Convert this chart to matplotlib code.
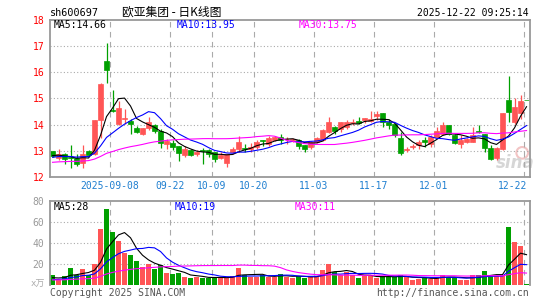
import numpy as np
import pandas as pd
import matplotlib.pyplot as plt
from matplotlib.transforms import blended_transform_factory

plt.rcParams['font.family'] = ['DejaVu Sans Mono', 'Noto Sans CJK SC']

# daily K-line of sh600697, first bar = 2025-08-25, last bar = 2025-12-22
opens = [12.99, 12.75, 12.90, 12.76, 12.75, 12.53, 12.99, 12.90, 14.16, 16.42,
         14.56, 14.03, 14.23, 14.13, 13.88, 13.66, 13.88, 14.00, 13.76, 13.27,
         13.30, 13.18, 12.84, 13.03, 12.87, 13.05, 13.02, 12.96, 12.72, 12.54,
         12.96, 13.08, 13.10, 13.06, 13.14, 13.42, 13.27, 13.42, 13.55, 13.45,
         13.40, 13.42, 13.21, 13.14, 13.33, 13.40, 13.71, 13.90, 13.84, 13.90,
         14.08, 14.15, 14.19, 14.15, 14.34, 14.43, 14.12, 14.03, 13.50, 13.03,
         13.15, 13.21, 13.40, 13.27, 13.55, 13.65, 13.97, 13.59, 13.27, 13.34,
         13.36, 13.76, 13.63, 13.12, 12.73, 13.08, 14.95, 14.09, 14.43, 14.94]
highs = [13.01, 13.08, 12.92, 13.22, 12.90, 13.22, 13.02, 14.18, 15.57, 17.10,
         15.33, 14.92, 14.60, 14.20, 13.95, 13.88, 14.28, 14.03, 13.84, 13.45,
         13.43, 13.20, 13.18, 13.08, 13.05, 13.10, 13.08, 12.98, 12.96, 12.90,
         13.14, 13.58, 13.26, 13.30, 13.40, 13.42, 13.58, 13.58, 13.65, 13.55,
         13.48, 13.46, 13.23, 13.39, 13.52, 13.84, 14.30, 13.96, 14.09, 14.19,
         14.22, 14.30, 14.25, 14.52, 14.53, 14.45, 14.22, 14.05, 13.71, 13.15,
         13.27, 13.42, 13.55, 13.59, 13.90, 14.12, 13.99, 13.65, 13.59, 13.50,
         13.90, 13.97, 13.65, 13.22, 13.14, 14.43, 15.86, 15.01, 15.14, 14.94]
lows = [12.78, 12.65, 12.50, 12.34, 12.42, 12.36, 12.80, 12.85, 13.50, 15.60,
        14.47, 14.00, 14.03, 13.65, 13.68, 13.60, 13.78, 13.68, 13.13, 13.07,
        13.05, 12.62, 12.78, 12.80, 12.82, 12.50, 12.77, 12.58, 12.68, 12.39,
        12.90, 12.96, 12.98, 12.98, 13.08, 13.20, 13.20, 13.38, 13.27, 13.27,
        13.36, 13.08, 12.96, 13.08, 13.30, 13.38, 13.68, 13.65, 13.72, 13.82,
        13.97, 14.02, 14.05, 14.10, 14.18, 13.90, 13.85, 13.52, 12.83, 12.96,
        13.06, 13.08, 13.17, 13.17, 13.52, 13.60, 13.62, 13.27, 13.12, 13.30,
        13.34, 13.68, 12.96, 12.64, 12.64, 13.02, 14.09, 14.03, 14.22, 14.93]
closes = [12.80, 12.90, 12.68, 12.72, 12.52, 12.90, 12.85, 14.16, 15.55, 16.08,
          14.52, 14.64, 14.27, 14.04, 13.72, 13.86, 14.12, 13.76, 13.31, 13.38,
          13.16, 12.93, 13.09, 12.84, 12.97, 12.99, 12.87, 12.70, 12.84, 12.87,
          13.06, 13.36, 13.07, 13.14, 13.36, 13.39, 13.48, 13.52, 13.40, 13.47,
          13.46, 13.20, 13.06, 13.33, 13.48, 13.81, 14.11, 13.77, 14.09, 14.11,
          14.10, 14.06, 14.25, 14.22, 14.41, 14.09, 14.00, 13.59, 12.92, 13.06,
          13.18, 13.34, 13.34, 13.55, 13.75, 13.97, 13.65, 13.30, 13.42, 13.46,
          13.59, 13.72, 13.12, 12.70, 13.12, 14.43, 14.47, 14.68, 14.91, 14.93]
# volume in 万手
volumes = [9.8, 5.1, 8.9, 16.8, 9.8, 15.6, 9.8, 20.0, 54.0, 73.0,
           50.8, 42.2, 31.1, 29.2, 23.2, 17.5, 20.0, 15.6, 19.4, 11.7,
           10.5, 12.1, 7.9, 7.0, 8.3, 7.3, 7.3, 7.3, 7.3, 7.3,
           8.9, 16.5, 9.8, 8.3, 8.3, 9.5, 8.3, 8.3, 10.8, 8.3,
           7.3, 8.9, 7.3, 8.3, 8.9, 14.6, 20.3, 12.7, 9.8, 13.0,
           9.8, 7.3, 8.8, 8.8, 7.3, 8.8, 7.9, 7.9, 9.8, 7.9,
           5.0, 6.3, 7.9, 6.3, 7.3, 9.8, 7.9, 7.9, 5.0, 5.0,
           9.8, 9.8, 13.6, 8.8, 8.8, 9.8, 55.6, 41.3, 37.5, 1.6]

# days before the window, only needed so the MA lines start where they do
pre_closes = [12.40, 12.45, 12.42, 12.50, 12.48, 12.38, 12.44, 12.52, 12.55, 12.47,
              12.43, 12.50, 12.46, 12.52, 12.48, 12.51, 12.45, 12.53, 12.50, 12.52,
              12.62, 12.70, 12.68, 12.75, 12.73, 12.80, 12.86, 12.82, 12.84]
pre_volumes = [5.0, 4.5, 5.5, 4.0, 6.0, 5.0, 4.5, 5.0, 4.0, 5.5,
               6.0, 4.5, 5.0, 4.0, 5.5, 5.0, 4.5, 6.0, 5.0, 4.5,
               4.0, 3.5, 4.0, 3.5, 3.5, 6.5, 7.0, 6.0, 7.0]

tick_idx = [10, 20, 27, 34, 44, 54, 64, 79]
tick_labels = ['2025-09-08', '09-22', '10-09', '10-20', '11-03', '11-17', '12-01', '12-22']
price_ticks = [12, 13, 14, 15, 16, 17, 18]
vol_ticks = [20, 40, 60, 80]

red = '#ff5555'
green = '#00a000'
grid_c = '#aaaaaa'
frame_c = '#999999'
ma_colors = {5: 'black', 10: '#0000ff', 30: '#ff00ff'}

n = len(closes)
x = np.arange(n) - 0.08
colors = [red if c >= o else green for o, c in zip(opens, closes)]

all_c = pd.Series(pre_closes + closes)
all_v = pd.Series(pre_volumes + volumes)
npre = len(pre_closes)

fig = plt.figure(figsize=(5.45, 3.0), dpi=100)
W, H = 545.0, 300.0
ax1 = fig.add_axes([50 / W, 1 - 177.3 / H, 480 / W, (177.3 - 19.5) / H])
ax2 = fig.add_axes([50 / W, 1 - 285.3 / H, 480 / W, (285.3 - 201.3) / H])

# watermark (drawn first so candles sit on top)
ax1.scatter([78.2], [12.93], s=70, facecolors='none', edgecolors='#f2c4c4', lw=1.5, zorder=1)
ax1.text(77.0, 12.55, 'sina', fontsize=12, style='italic', weight='bold', color='#d6d6d6',
         ha='center', va='center', family='DejaVu Sans', zorder=1)

# candles
ax1.vlines(x, lows, highs, colors=colors, lw=0.9, zorder=2)
bottoms = [min(o, c) for o, c in zip(opens, closes)]
heights = [max(abs(c - o), 0.02) for o, c in zip(opens, closes)]
ax1.bar(x, heights, bottom=bottoms, width=0.8, color=colors, edgecolor=colors, lw=0.5, zorder=2)

# volume bars
ax2.bar(x, volumes, width=0.83, color=colors, lw=0, zorder=2)

for p in [5, 10, 30]:
    ma_p = all_c.rolling(p).mean().iloc[npre:]
    ma_v = all_v.rolling(p).mean().iloc[npre:]
    ax1.plot(x, ma_p.values, color=ma_colors[p], lw=0.8, zorder=3)
    ax2.plot(x, ma_v.values, color=ma_colors[p], lw=0.8, zorder=3)

for ax in [ax1, ax2]:
    ax.set_xlim(-0.5, n - 0.5)
    for k in tick_idx:
        ax.axvline(k - 0.5, color=grid_c, lw=0.8, ls=(0, (5, 4)), zorder=1)
    ax.set_xticks([])
    for s in ax.spines.values():
        s.set_color(frame_c)
        s.set_linewidth(1.3)
    ax.tick_params(axis='y', length=0, pad=4, labelsize=7)

ax1.set_ylim(12, 18)
ax1.set_yticks(price_ticks)
ax1.set_yticklabels([str(t) for t in price_ticks], color='#ff0000')
for t in price_ticks[1:-1]:
    ax1.axhline(t, color=grid_c, lw=0.8, ls=(0, (1, 2)), zorder=1)

ax2.set_ylim(0, 80)
ax2.set_yticks(vol_ticks)
ax2.set_yticklabels([str(t) for t in vol_ticks], color='#999999')
ax2.spines['bottom'].set_visible(False)
for t in vol_ticks[:-1]:
    ax2.axhline(t, color=grid_c, lw=0.8, ls=(0, (1, 2)), zorder=1)

# date labels under the price panel
tr = blended_transform_factory(ax1.transData, ax1.transAxes)
for k, lab in zip(tick_idx, tick_labels):
    if k == tick_idx[-1]:
        ax1.text(79.0, -0.055, lab, transform=tr, ha='right', va='center', fontsize=7, color='#1f7fd0')
    else:
        ax1.text(k - 0.5, -0.055, lab, transform=tr, ha='center', va='center', fontsize=7, color='#1f7fd0')

# header
fig.text(50 / W, 1 - 12.5 / H, 'sh600697', fontsize=7.3, va='center', ha='left')
fig.text(122 / W, 1 - 12.5 / H, '欧亚集团 - 日K线图', fontsize=8.5, va='center', ha='left',
         family=['Noto Sans CJK SC', 'DejaVu Sans'])
fig.text(529 / W, 1 - 12.5 / H, '2025-12-22 09:25:14', fontsize=7, va='center', ha='right')

# MA legends
fig.text(54 / W, 1 - 24.5 / H, 'MA5:14.66', fontsize=7, va='center', color='black')
fig.text(177 / W, 1 - 24.5 / H, 'MA10:13.95', fontsize=7, va='center', color='#0000ff')
fig.text(299 / W, 1 - 24.5 / H, 'MA30:13.75', fontsize=7, va='center', color='#ff00ff')
fig.text(54 / W, 1 - 206.5 / H, 'MA5:28', fontsize=7, va='center', color='black')
fig.text(175 / W, 1 - 206.5 / H, 'MA10:19', fontsize=7, va='center', color='#0000ff')
fig.text(295 / W, 1 - 206.5 / H, 'MA30:11', fontsize=7, va='center', color='#ff00ff')

fig.text(45 / W, 1 - 284.5 / H, 'x万', fontsize=6.5, va='center', ha='right', color='#aaaaaa')

# footer
fig.text(50 / W, 1 - 292.5 / H, 'Copyright 2025 SINA.COM', fontsize=7, va='center', color='#555555')
fig.text(529 / W, 1 - 292.5 / H, 'http://finance.sina.com.cn', fontsize=7, va='center', ha='right', color='#555555')

plt.savefig('out.png', dpi=100)
